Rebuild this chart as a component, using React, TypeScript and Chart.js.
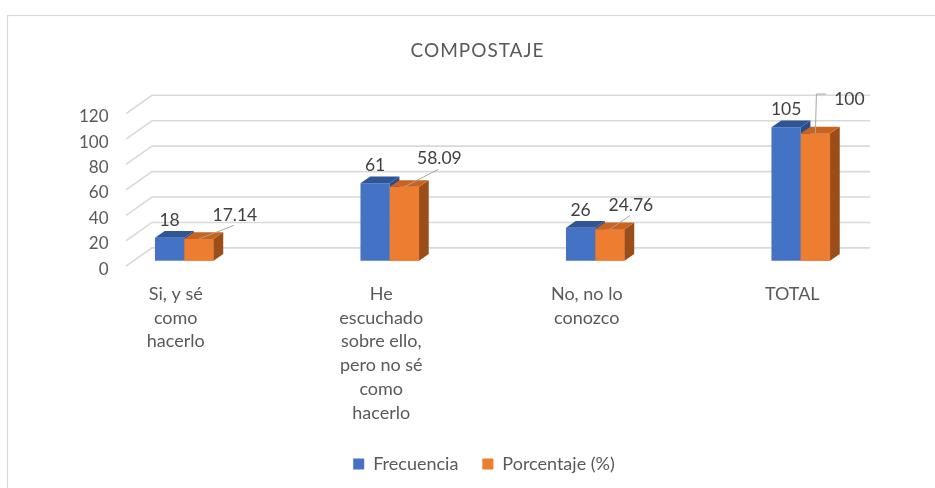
import { useEffect, useRef } from "react";
import { Chart, registerables } from "chart.js";

Chart.register(...registerables);

// ---------- data ----------
const categories: string[][] = [
  ["Si, y sé", "como", "hacerlo"],
  ["He", "escuchado", "sobre ello,", "pero no sé", "como", "hacerlo"],
  ["No, no lo", "conozco"],
  ["TOTAL"],
];
const seriesNames = ["Frecuencia", "Porcentaje (%)"];
const frecuencia = [18, 61, 26, 105];
const porcentaje = [17.14, 58.09, 24.76, 100];
const yMin = 0;
const yMax = 120;
const yStep = 20;
const chartTitle = "COMPOSTAJE";

// ---------- styling ----------
const FONT = "Lato, 'Open Sans', 'DejaVu Sans', sans-serif";
const TEXT = "#595959";
const LABEL_TEXT = "#404040";
const GRID = "#d9d9d9";
const BLUE = "#4472C4";
const BLUE_TOP = "#2F5597";
const BLUE_SIDE = "#2A4C8A";
const ORANGE = "#ED7D31";
const ORANGE_TOP = "#C8641F";
const ORANGE_SIDE = "#9C4E1A";

// pseudo-3D geometry (styling constants)
const PLANE_DX = 8.5; // bars sit slightly back in the depth
const PLANE_DY = -5.5;
const WALL_DX = 26;
const WALL_DY = -18.3;
const BAR_DX = 9.7;
const BAR_DY = -6.7;
const GRID_LEFT_INSET = 53;
const GRID_RIGHT_INSET = 25;
const BLUE_LABEL_RISE = 20.5;
const TEXT_BASELINE_FIX = 3; // Lato sits high with "middle" baseline
const TITLE_X = 477;
const TITLE_Y = 49;
// orange label offsets relative to its bar top and leader style
const ORANGE_LABEL_OFFSETS: [number, number][] = [
  [36, -27],
  [35, -31],
  [21, -27],
  [34, -37.5],
];
const ORANGE_LEADER_ELBOW = [false, false, false, true];

const pseudo3d = {
  id: "pseudo3d",
  beforeDraw(chart: any) {
    const { ctx } = chart;
    ctx.save();
    ctx.strokeStyle = GRID;
    ctx.lineWidth = 1.2;
    ctx.strokeRect(7.5, 15.5, 2000, 2000);
    // title
    ctx.fillStyle = TEXT;
    ctx.font = `19px ${FONT}`;
    (ctx as any).letterSpacing = "1px";
    ctx.textAlign = "center";
    ctx.textBaseline = "middle";
    ctx.fillText(chartTitle, TITLE_X + 0.5, TITLE_Y + 2);
    ctx.restore();
  },
  beforeDatasetsDraw(chart: any) {
    const { ctx, chartArea } = chart;
    const y = chart.scales.y;
    const x0 = chartArea.left + GRID_LEFT_INSET;
    const x1 = chartArea.right - GRID_RIGHT_INSET;
    ctx.save();
    ctx.strokeStyle = GRID;
    ctx.lineWidth = 1.6;
    y.ticks.forEach((t: any) => {
      const py = y.getPixelForValue(t.value);
      ctx.beginPath();
      ctx.moveTo(x0, py);
      ctx.lineTo(x0 + WALL_DX, py + WALL_DY);
      ctx.lineTo(x1, py + WALL_DY);
      ctx.stroke();
    });
    ctx.restore();
    ctx.save();
    ctx.translate(PLANE_DX, PLANE_DY);
  },
  afterDatasetsDraw(chart: any) {
    const { ctx } = chart;
    const metas = [chart.getDatasetMeta(0), chart.getDatasetMeta(1)];
    const tops = [BLUE_TOP, ORANGE_TOP];
    const sides = [BLUE_SIDE, ORANGE_SIDE];
    const faces = (el: any, d: number) => {
      const p = el.getProps(["x", "y", "base", "width"], true);
      const l = p.x - p.width / 2;
      const r = p.x + p.width / 2;
      const t = Math.min(p.y, p.base);
      const b = Math.max(p.y, p.base);
      ctx.fillStyle = sides[d];
      ctx.beginPath();
      ctx.moveTo(r, t);
      ctx.lineTo(r + BAR_DX, t + BAR_DY);
      ctx.lineTo(r + BAR_DX, b + BAR_DY);
      ctx.lineTo(r, b);
      ctx.closePath();
      ctx.fill();
      ctx.fillStyle = tops[d];
      ctx.beginPath();
      ctx.moveTo(l, t);
      ctx.lineTo(l + BAR_DX, t + BAR_DY);
      ctx.lineTo(r + BAR_DX, t + BAR_DY);
      ctx.lineTo(r, t);
      ctx.closePath();
      ctx.fill();
    };
    metas[0].data.forEach((blueEl: any, i: number) => {
      faces(blueEl, 0);
      const orangeEl = metas[1].data[i];
      if (orangeEl) {
        orangeEl.draw(ctx);
        faces(orangeEl, 1);
      }
    });
    ctx.restore();

    // data labels
    ctx.save();
    ctx.font = `17.5px ${FONT}`;
    ctx.textAlign = "center";
    ctx.textBaseline = "middle";
    metas[0].data.forEach((el: any, i: number) => {
      const p = el.getProps(["x", "y"], true);
      ctx.fillStyle = LABEL_TEXT;
      ctx.fillText(
        String(frecuencia[i]),
        p.x + PLANE_DX,
        p.y + PLANE_DY - BLUE_LABEL_RISE + TEXT_BASELINE_FIX
      );
    });
    metas[1].data.forEach((el: any, i: number) => {
      const p = el.getProps(["x", "y"], true);
      const ax = p.x + PLANE_DX;
      const ay = p.y + PLANE_DY;
      const [ox, oy] = ORANGE_LABEL_OFFSETS[i];
      const lx = ax + ox;
      const ly = ay + oy;
      const txt = String(porcentaje[i]);
      const w = ctx.measureText(txt).width;
      ctx.strokeStyle = "#A6A6A6";
      ctx.lineWidth = 1;
      ctx.beginPath();
      if (ORANGE_LEADER_ELBOW[i]) {
        ctx.moveTo(ax, ay);
        ctx.lineTo(ax + 1, ly - 2);
        ctx.lineTo(lx - w / 2 - 8, ly - 2);
      } else {
        ctx.moveTo(ax, ay);
        ctx.lineTo(lx - 1, ly + 13.5);
      }
      ctx.stroke();
      ctx.fillStyle = LABEL_TEXT;
      ctx.fillText(txt, lx, ly + TEXT_BASELINE_FIX);
    });
    ctx.restore();
  },
};

export default function App() {
  const ref = useRef<HTMLCanvasElement | null>(null);
  useEffect(() => {
    if (!ref.current) return;
    const chart = new Chart(ref.current, {
      type: "bar",
      data: {
        labels: categories,
        datasets: [
          {
            label: seriesNames[0],
            data: frecuencia,
            backgroundColor: BLUE,
            borderWidth: 0,
            categoryPercentage: 0.285,
            barPercentage: 1,
            clip: false as any,
          },
          {
            label: seriesNames[1],
            data: porcentaje,
            backgroundColor: ORANGE,
            borderWidth: 0,
            categoryPercentage: 0.285,
            barPercentage: 1,
            clip: false as any,
          },
        ],
      },
      options: {
        animation: false,
        responsive: true,
        maintainAspectRatio: false,
        layout: { padding: { top: 113.6, left: 73, right: 40, bottom: 5 } },
        plugins: {
          title: { display: false },
          legend: {
            position: "bottom",
            labels: {
              color: TEXT,
              font: { family: FONT, size: 18 },
              boxWidth: 11,
              boxHeight: 11,
              padding: 24,
            },
          },
          tooltip: { enabled: false },
        },
        scales: {
          x: {
            grid: { display: false, drawTicks: false },
            border: { display: false },
            ticks: {
              color: TEXT,
              font: { family: FONT, size: 18, lineHeight: 1.32 },
              padding: 16,
              maxRotation: 0,
              minRotation: 0,
              autoSkip: false,
            },
            afterFit(scale: any) {
              scale.height = 164.8;
            },
          },
          y: {
            min: yMin,
            max: yMax,
            grid: { display: false, drawTicks: false },
            border: { display: false },
            ticks: {
              stepSize: yStep,
              mirror: true,
              crossAlign: "far",
              padding: 6,
              labelOffset: 3,
              color: TEXT,
              font: { family: FONT, size: 17 },
            },
            afterFit(scale: any) {
              scale.width = 0;
            },
          },
        },
      },
      plugins: [pseudo3d],
    });
    return () => chart.destroy();
  }, []);
  return (
    <div style={{ position: "fixed", left: 0, top: 0, width: 935, height: 488, background: "#fff" }}>
      <canvas ref={ref} />
    </div>
  );
}
